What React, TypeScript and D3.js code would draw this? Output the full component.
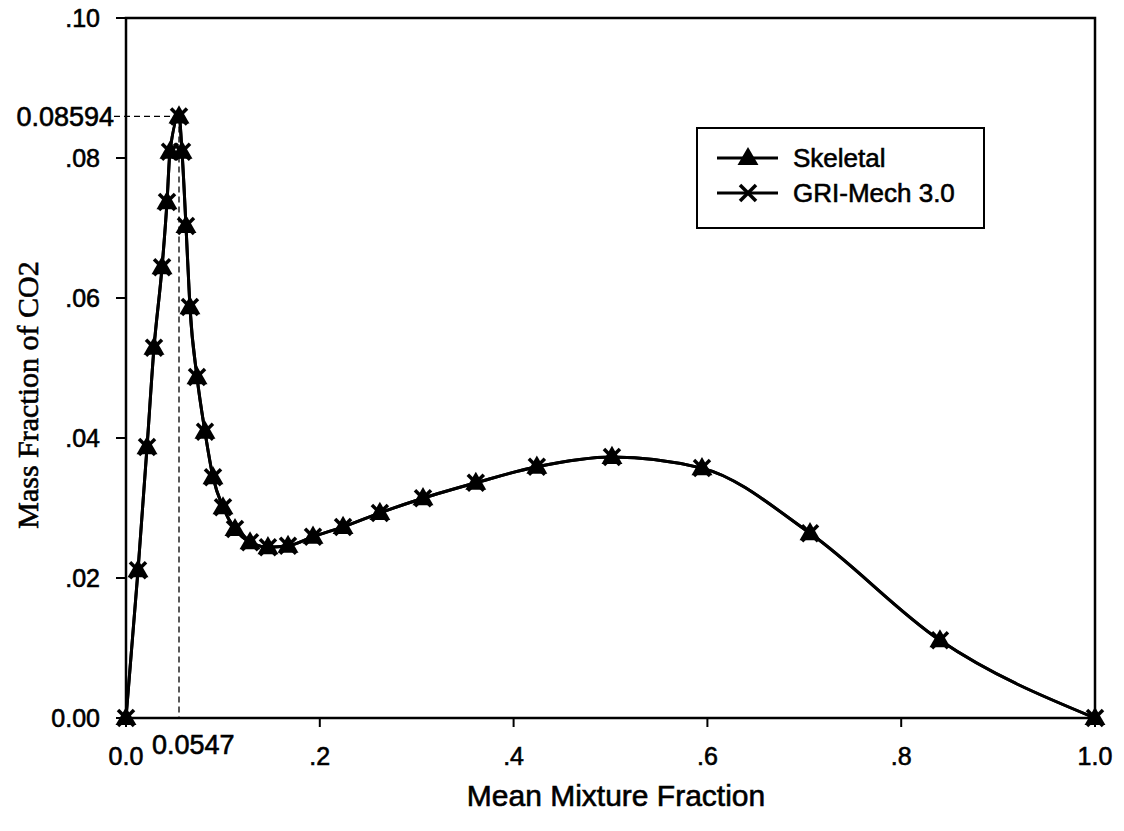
import * as React from 'react';
import * as d3 from 'd3';

const WIDTH = 1124;
const HEIGHT = 831;

const margin = { left: 126, right: 29, top: 18, bottom: 113 };

// mean mixture fraction at each computed point
const mixtureFraction = [
  0, 0.0124, 0.0217, 0.0289, 0.0372, 0.0423, 0.0454, 0.0547, 0.0578, 0.0619,
  0.066, 0.0733, 0.0815, 0.0898, 0.1001, 0.1125, 0.128, 0.1465, 0.1672, 0.193,
  0.224, 0.262, 0.3065, 0.361, 0.424, 0.5015, 0.5944, 0.7059, 0.84, 1.0,
];

const skeletal = [
  0, 0.0211, 0.0387, 0.0529, 0.0644, 0.0737, 0.0809, 0.08594, 0.0809, 0.0703,
  0.0587, 0.0487, 0.0409, 0.0344, 0.0301, 0.027, 0.0251, 0.0244, 0.0246, 0.0259,
  0.0273, 0.0293, 0.0314, 0.0336, 0.0359, 0.0373, 0.0357, 0.0264, 0.0111, 0,
];

const griMech = [
  0, 0.0211, 0.0387, 0.0529, 0.0644, 0.0737, 0.0809, 0.08594, 0.0809, 0.0703,
  0.0587, 0.0487, 0.0409, 0.0344, 0.0301, 0.027, 0.0251, 0.0244, 0.0246, 0.0259,
  0.0273, 0.0293, 0.0314, 0.0336, 0.0359, 0.0373, 0.0357, 0.0264, 0.0111, 0,
];

const xTicks = [0, 0.2, 0.4, 0.6, 0.8, 1.0];
const xTickLabels = ['0.0', '.2', '.4', '.6', '.8', '1.0'];
const yTicks = [0, 0.02, 0.04, 0.06, 0.08, 0.1];
const yTickLabels = ['0.00', '.02', '.04', '.06', '.08', '.10'];

const peakX = 0.0547;
const peakY = 0.08594;

const seriesNames = ['Skeletal', 'GRI-Mech 3.0'];

const SANS = '"Liberation Sans", Arial, sans-serif';
const SERIF = '"Liberation Serif", "Times New Roman", serif';

const x = d3
  .scaleLinear()
  .domain([0, 1])
  .range([margin.left, WIDTH - margin.right]);

const y = d3
  .scaleLinear()
  .domain([0, 0.1])
  .range([HEIGHT - margin.bottom, margin.top]);

const line = d3
  .line<number>()
  .x((_, i) => x(mixtureFraction[i]))
  .y(d => y(d))
  .curve(d3.curveMonotoneX);

const triangle = d3.symbol().type(d3.symbolTriangle).size(190)();

// scanned-looking text: a thin outline makes it a bit heavier
const ink = { fill: '#000', stroke: '#000', strokeWidth: 0.6 };

function Triangle({ cx, cy }: { cx: number; cy: number }) {
  return <path d={triangle || ''} transform={`translate(${cx},${cy + 1})`} fill="#000" />;
}

function Cross({ cx, cy }: { cx: number; cy: number }) {
  const r = 8;
  return (
    <g stroke="#000" strokeWidth={3.5}>
      <line x1={cx - r} y1={cy - r} x2={cx + r} y2={cy + r} />
      <line x1={cx - r} y1={cy + r} x2={cx + r} y2={cy - r} />
    </g>
  );
}

export default function App() {
  const x0 = x.range()[0];
  const x1 = x.range()[1];
  const y0 = y.range()[0];
  const y1 = y.range()[1];

  const legendX = 697;
  const legendY = 128;

  return (
    <svg
      width={WIDTH}
      height={HEIGHT}
      style={{ position: 'absolute', left: 0, top: 0, background: '#fff' }}
    >
      {/* frame */}
      <rect x={x0} y={y1} width={x1 - x0} height={y0 - y1} fill="none" stroke="#000" strokeWidth={2.5} />

      {/* y ticks */}
      {yTicks.map((t, i) => (
        <g key={'y' + i}>
          <line x1={x0 - 10} x2={x0} y1={y(t)} y2={y(t)} stroke="#000" strokeWidth={2} />
          <text
            x={x0 - 26}
            y={y(t)}
            dy="0.35em"
            textAnchor="end"
            fontFamily={SANS}
            fontSize={25}
            {...ink}
          >
            {yTickLabels[i]}
          </text>
        </g>
      ))}

      {/* x ticks */}
      {xTicks.map((t, i) => (
        <g key={'x' + i}>
          <line x1={x(t)} x2={x(t)} y1={y0} y2={y0 + 9} stroke="#000" strokeWidth={2} />
          <text x={x(t)} y={y0 + 47} textAnchor="middle" fontFamily={SANS} fontSize={25} {...ink}>
            {xTickLabels[i]}
          </text>
        </g>
      ))}

      {/* peak annotation */}
      <line
        x1={x0 - 12}
        x2={x(peakX)}
        y1={y(peakY)}
        y2={y(peakY)}
        stroke="#000"
        strokeWidth={1.3}
        strokeDasharray="6,4"
      />
      <line
        x1={x(peakX)}
        x2={x(peakX)}
        y1={y(peakY)}
        y2={y0}
        stroke="#000"
        strokeWidth={1.3}
        strokeDasharray="6,4"
      />
      <text x={x0 - 12} y={y(peakY)} dy="0.35em" textAnchor="end" fontFamily={SANS} fontSize={27} {...ink}>
        0.08594
      </text>
      <text x={152} y={y0 + 36} fontFamily={SANS} fontSize={27} {...ink}>
        0.0547
      </text>

      {/* series */}
      <path d={line(skeletal) || ''} fill="none" stroke="#000" strokeWidth={3} />
      <path d={line(griMech) || ''} fill="none" stroke="#000" strokeWidth={3} />
      {skeletal.map((v, i) => (
        <Triangle key={'s' + i} cx={x(mixtureFraction[i])} cy={y(v)} />
      ))}
      {griMech.map((v, i) => (
        <Cross key={'g' + i} cx={x(mixtureFraction[i])} cy={y(v)} />
      ))}

      {/* legend */}
      <rect x={legendX} y={legendY} width={287} height={100} fill="#fff" stroke="#000" strokeWidth={2} />
      {seriesNames.map((name, i) => {
        const cy = legendY + 30 + i * 35;
        return (
          <g key={name}>
            <line x1={717} x2={778} y1={cy} y2={cy} stroke="#000" strokeWidth={3} />
            {i === 0 ? <Triangle cx={748} cy={cy} /> : <Cross cx={748} cy={cy} />}
            <text x={793} y={cy} dy="0.35em" fontFamily={SANS} fontSize={26} {...ink}>
              {name}
            </text>
          </g>
        );
      })}

      {/* axis titles */}
      <text x={616} y={806} textAnchor="middle" fontFamily={SANS} fontSize={30} {...ink}>
        Mean Mixture Fraction
      </text>
      <text
        transform={`translate(38,${395}) rotate(-90)`}
        textAnchor="middle"
        fontFamily={SERIF}
        fontSize={30}
        {...ink}
      >
        Mass Fraction of CO2
      </text>
    </svg>
  );
}
